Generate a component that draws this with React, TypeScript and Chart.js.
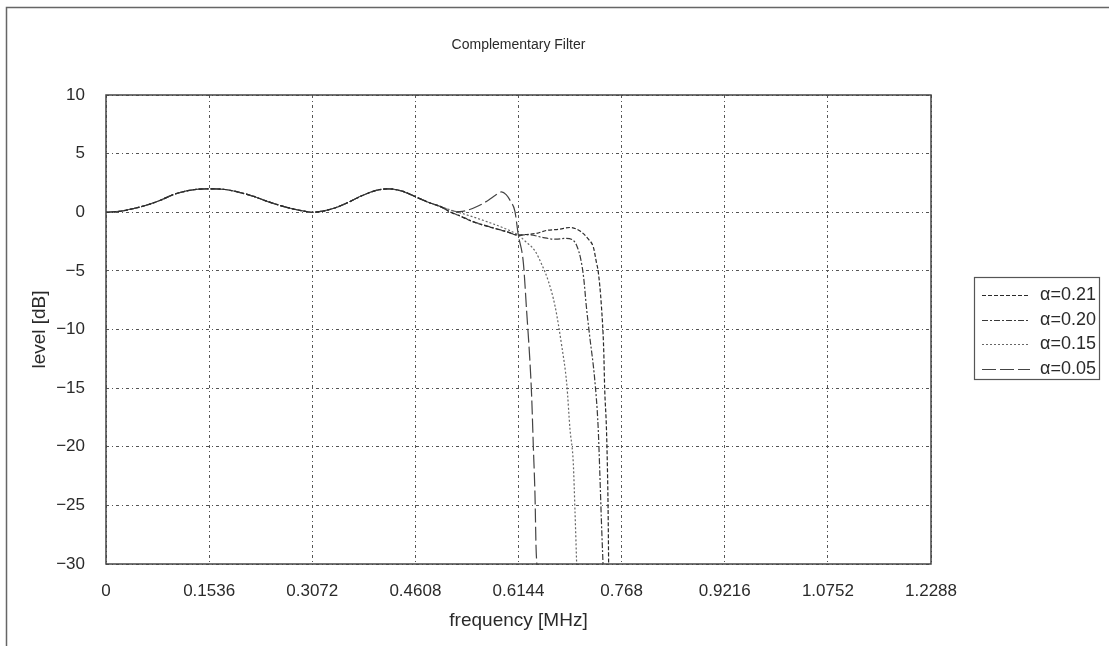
import React, { useEffect, useRef } from 'react';
import { Chart, registerables } from 'chart.js';

Chart.register(...registerables);

// ---- tick values / labels ----
const xTickValues = [0, 0.1536, 0.3072, 0.4608, 0.6144, 0.768, 0.9216, 1.0752, 1.2288];
const xTickLabels = ['0', '0.1536', '0.3072', '0.4608', '0.6144', '0.768', '0.9216', '1.0752', '1.2288'];
const yTickValues = [10, 5, 0, -5, -10, -15, -20, -25, -30];

// ---- shared passband part (frequency [MHz], level [dB]) ----
const commonFreq = [0, 0.02, 0.04, 0.06, 0.08, 0.10, 0.12, 0.14, 0.16, 0.18, 0.20, 0.22, 0.24, 0.26, 0.28, 0.30, 0.3072, 0.32, 0.34, 0.36, 0.38, 0.40, 0.42, 0.44, 0.46, 0.48, 0.4975];
const commonLevel = [0, 0.08, 0.3, 0.6, 1.0, 1.5, 1.82, 1.98, 2.0, 1.92, 1.68, 1.35, 0.93, 0.57, 0.27, 0.04, 0, 0.07, 0.35, 0.82, 1.38, 1.82, 2.0, 1.82, 1.35, 0.85, 0.5];

// ---- alpha = 0.21 ----
const freqA21 = [0.512, 0.527, 0.547, 0.572, 0.597, 0.614, 0.625, 0.641, 0.656, 0.6756, 0.691, 0.706, 0.7185, 0.726, 0.7305, 0.733, 0.7379, 0.7413, 0.7428, 0.7453, 0.7468, 0.7478, 0.7487];
const levelA21 = [0.03, -0.32, -0.82, -1.27, -1.67, -1.95, -1.9, -1.8, -1.55, -1.45, -1.3, -1.6, -2.3, -3.0, -4.3, -5.0, -8.0, -11.7, -15.1, -18.3, -21.7, -25.1, -30.3];

// ---- alpha = 0.20 ----
const freqA20 = [0.512, 0.527, 0.547, 0.572, 0.597, 0.614, 0.631, 0.65, 0.67, 0.6845, 0.697, 0.7022, 0.7071, 0.7115, 0.7154, 0.7205, 0.728, 0.733, 0.7355, 0.738, 0.7405];
const levelA20 = [0.05, -0.3, -0.8, -1.25, -1.65, -1.95, -1.92, -2.15, -2.3, -2.22, -2.45, -3.0, -4.0, -5.6, -8.0, -10.6, -14.3, -18.3, -22.2, -26.5, -30.3];

// ---- alpha = 0.15 ----
const freqA15 = [0.512, 0.527, 0.547, 0.572, 0.597, 0.614, 0.624, 0.639, 0.649, 0.659, 0.6688, 0.6788, 0.6862, 0.6911, 0.696, 0.6986, 0.7012];
const levelA15 = [0.22, -0.04, -0.4, -0.9, -1.45, -1.95, -2.45, -3.3, -4.45, -5.9, -8.0, -11.4, -14.6, -18.5, -21.4, -25.6, -30.3];

// ---- alpha = 0.05 ----
const freqA05 = [0.51, 0.527, 0.54, 0.555, 0.57, 0.58, 0.589, 0.596, 0.603, 0.609, 0.614, 0.6216, 0.6266, 0.6315, 0.634, 0.6365, 0.639, 0.6405, 0.642];
const levelA05 = [0.22, 0.05, 0.2, 0.55, 1.05, 1.45, 1.73, 1.5, 0.9, 0.1, -1.9, -4.3, -8.5, -12.8, -15.7, -20.0, -24.2, -28.5, -30.3];

const seriesLabels = ['\u03B1=0.21', '\u03B1=0.20', '\u03B1=0.15', '\u03B1=0.05'];
const seriesFreqs = [freqA21, freqA20, freqA15, freqA05];
const seriesLevels = [levelA21, levelA20, levelA15, levelA05];
const seriesColors = ['#2a2a2a', '#3a3a3a', '#666666', '#444444'];
const seriesDashes = [[4, 2], [6, 2, 2, 2], [2, 2], [14, 4]];

const FONT = '"Liberation Sans", Arial, sans-serif';
const TEXT = '#2a2a2a';

const framePlugin = {
  id: 'framePlugin',
  afterDraw(chart: any) {
    const ctx = chart.ctx;
    const a = chart.chartArea;
    ctx.save();
    // outer frame
    ctx.strokeStyle = '#666';
    ctx.lineWidth = 1.5;
    ctx.setLineDash([]);
    ctx.beginPath();
    ctx.moveTo(6.5, 646);
    ctx.lineTo(6.5, 7.5);
    ctx.lineTo(1109, 7.5);
    ctx.stroke();
    // plot frame
    ctx.strokeStyle = '#444';
    ctx.lineWidth = 1.5;
    ctx.strokeRect(a.left, a.top, a.right - a.left, a.bottom - a.top);
    // title
    ctx.fillStyle = TEXT;
    ctx.font = '14px ' + FONT;
    ctx.textAlign = 'center';
    ctx.textBaseline = 'middle';
    ctx.fillText('Complementary Filter', (a.left + a.right) / 2, 45);
    // legend
    const bx = 974, by = 277, bw = 125, bh = 102;
    ctx.strokeStyle = '#555';
    ctx.lineWidth = 1.2;
    ctx.strokeRect(bx + 0.5, by + 0.5, bw, bh);
    chart.data.datasets.forEach((ds: any, i: number) => {
      const y = 295 + i * 24.7;
      ctx.strokeStyle = ds.borderColor;
      ctx.lineWidth = 1.2;
      ctx.setLineDash(ds.borderDash || []);
      ctx.beginPath();
      ctx.moveTo(982, Math.round(y) + 0.5);
      ctx.lineTo(1030, Math.round(y) + 0.5);
      ctx.stroke();
      ctx.setLineDash([]);
      ctx.fillStyle = TEXT;
      ctx.font = '18px ' + FONT;
      ctx.textAlign = 'left';
      ctx.textBaseline = 'middle';
      ctx.fillText(ds.label, 1040, y);
    });
    ctx.restore();
  },
};

export default function App() {
  const canvasRef = useRef<HTMLCanvasElement | null>(null);

  useEffect(() => {
    if (!canvasRef.current) return;
    const datasets = seriesLabels.map((label, i) => {
      const fx = [...commonFreq, ...seriesFreqs[i]];
      const ly = [...commonLevel, ...seriesLevels[i]];
      return {
        label,
        data: fx.map((x, j) => ({ x, y: ly[j] })),
        borderColor: seriesColors[i],
        borderDash: seriesDashes[i],
        borderWidth: 1.2,
        pointRadius: 0,
        fill: false,
        cubicInterpolationMode: 'monotone' as const,
        clip: 0,
      };
    });
    const chart = new Chart(canvasRef.current, {
      type: 'line',
      data: { datasets },
      options: {
        animation: false,
        responsive: false,
        devicePixelRatio: 1,
        layout: { padding: { left: 0, top: 95, right: 178, bottom: 0 } },
        plugins: {
          legend: { display: false },
          title: { display: false },
          tooltip: { enabled: false },
        },
        scales: {
          x: {
            type: 'linear',
            min: 0,
            max: 1.2288,
            afterFit: (s: any) => { s.height = 82; },
            afterBuildTicks: (s: any) => { s.ticks = xTickValues.map((v) => ({ value: v })); },
            ticks: {
              autoSkip: false,
              maxRotation: 0,
              padding: 17,
              color: TEXT,
              font: { family: FONT, size: 17 },
              callback: (v: any, i: number) => xTickLabels[i],
            },
            grid: { color: '#555', lineWidth: 1, drawTicks: false },
            border: { display: false, dash: [3, 3, 1, 3] },
            title: {
              display: true,
              text: 'frequency [MHz]',
              color: TEXT,
              font: { family: FONT, size: 19 },
              padding: { top: 0, bottom: 14 },
            },
          },
          y: {
            type: 'linear',
            min: -30,
            max: 10,
            afterFit: (s: any) => { s.width = 106; },
            afterBuildTicks: (s: any) => { s.ticks = yTickValues.map((v) => ({ value: v })); },
            ticks: {
              padding: 21,
              color: TEXT,
              font: { family: FONT, size: 17 },
              callback: (v: any) => String(v).replace('-', '\u2212'),
            },
            grid: { color: '#555', lineWidth: 1, drawTicks: false },
            border: { display: false, dash: [3, 3, 1, 3] },
            title: {
              display: true,
              text: 'level [dB]',
              color: TEXT,
              font: { family: FONT, size: 19 },
              padding: { top: 28, bottom: 0 },
            },
          },
        },
      },
      plugins: [framePlugin],
    });
    return () => chart.destroy();
  }, []);

  return (
    <div style={{ position: 'fixed', left: 0, top: 0, width: 1109, height: 646, background: '#fff' }}>
      <canvas ref={canvasRef} width={1109} height={646} style={{ display: 'block' }} />
    </div>
  );
}
